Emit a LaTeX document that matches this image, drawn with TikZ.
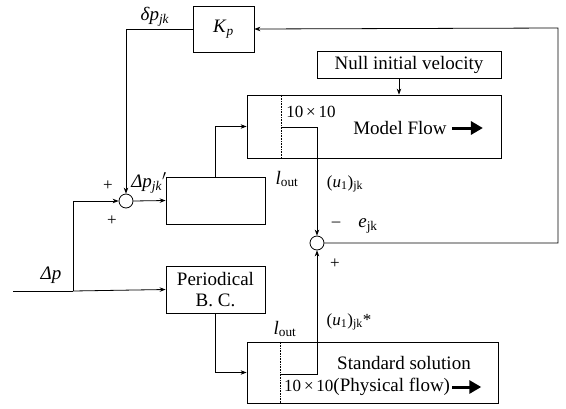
\documentclass[tikz,border=0pt]{standalone}
\usepackage{fontspec}
\setmainfont{Liberation Serif}
\usetikzlibrary{arrows.meta, positioning, calc}

\begin{document}
\begin{tikzpicture}[
    x=1pt, y=-1pt,
    every node/.style={font=\fontsize{19}{21}\selectfont, inner sep=0pt},
    block/.style={rectangle, draw, line width=0.8pt, align=center},
    sumnode/.style={circle, draw, line width=0.8pt, minimum size=14pt},
    lbl/.style={font=\fontsize{17}{19}\selectfont},
    arrow/.style={-{Stealth[length=6pt, width=4.5pt]}, line width=0.8pt},
    bigarrow/.style={-{Triangle[length=12pt, width=13pt]}, line width=3pt},
    grid/.style={densely dotted, line width=0.6pt},
]
  \useasboundingbox (0,0) rectangle (566,408);

  % blocks
  \node[block, minimum width=61pt, minimum height=46pt] (kp) at (223.5,29) {\textit{K}\textsubscript{\textit{p}}};
  \node[block, minimum width=184pt, minimum height=27pt] (null) at (409,64.5) {Null initial velocity};
  \node[block, minimum width=254pt, minimum height=63pt] (model) at (374,126.5) {};
  \node[block, minimum width=99pt, minimum height=47pt] (mid) at (215.5,200.5) {};
  \node[block, minimum width=99pt, minimum height=47pt] (per) at (215.5,289.5) {Periodical\\B. C.};
  \node[block, minimum width=251pt, minimum height=61pt] (std) at (372.5,372.5) {};

  % summing points
  \node[sumnode] (sum1) at (126,201) {};
  \node[sumnode] (sum2) at (317,243) {};

  % helper points
  \coordinate (in) at (13,291);
  \coordinate (br) at (73,291);
  \coordinate (fbr) at (558,28);
  \coordinate (mo) at (281,127);
  \coordinate (so) at (280,374);
  \coordinate (nv) at ([xshift=-10pt]null.south);

  % texts inside the flow boxes
  \node[lbl] (mgrid) at (311,112) {10\,×\,10};
  \node (mtxt) at (400,128) {Model Flow};
  \node (stxt) at (404,363) {Standard solution};
  \node[anchor=west] (ptxt) at (284,387) {{\fontsize{17}{19}\selectfont 10\,×\,10}(Physical flow)};
  \draw[bigarrow] ([xshift=5pt]mtxt.east) -- ++(31,0);
  \draw[bigarrow] ([xshift=2pt]ptxt.east) -- ++(29,0);

  % 10x10 grid edges
  \draw[grid] (model.north -| mo) -- (model.south -| mo);
  \draw[grid] (std.north -| so) -- (std.south -| so);

  % connectors
  \draw[line width=0.8pt] (in) -- (br);
  \draw[arrow] (br) -- (per.west);
  \draw[arrow] (br) |- (sum1.west);
  \draw[arrow] (sum1.east) -- (mid.west);
  \draw[arrow] (mid.north) |- (model.west);
  \draw[arrow] (nv) -- (nv |- model.north);
  \draw[arrow] (mo) -| (sum2.north);
  \draw[arrow] (so) -| (sum2.south);
  \draw[arrow] (per.south) |- (std.west);
  \draw[arrow] (sum2.east) -| (fbr) -- (kp.east);
  \draw[arrow] (kp.west) -| (sum1.north);

  % labels
  \node (dpjk) at (155,17) {\textit{δp}\textsubscript{\textit{jk}}};
  \node (dpjk2) at (149,183) {\textit{Δp}\textsubscript{\textit{jk}}\textit{$'$}};
  \node[lbl] (p1) at (108,186) {+};
  \node[lbl] (p2) at (112,221) {+};
  \node (dp) at (51,275) {\textit{Δp}};
  \node (lout1) at (287,179) {\textit{l}\textsubscript{out}};
  \node[lbl] (u1) at (345,184) {(\textit{u}\textsubscript{1})\textsubscript{jk}};
  \node[lbl] (m2) at (336,224) {–};
  \node (ejk) at (368,226) {\textit{e}\textsubscript{jk}};
  \node[lbl] (p3) at (335,264) {+};
  \node (lout2) at (285,329) {\textit{l}\textsubscript{out}};
  \node[lbl] (u1s) at (349,322) {(\textit{u}\textsubscript{1})\textsubscript{jk}*};
\end{tikzpicture}
\end{document}
